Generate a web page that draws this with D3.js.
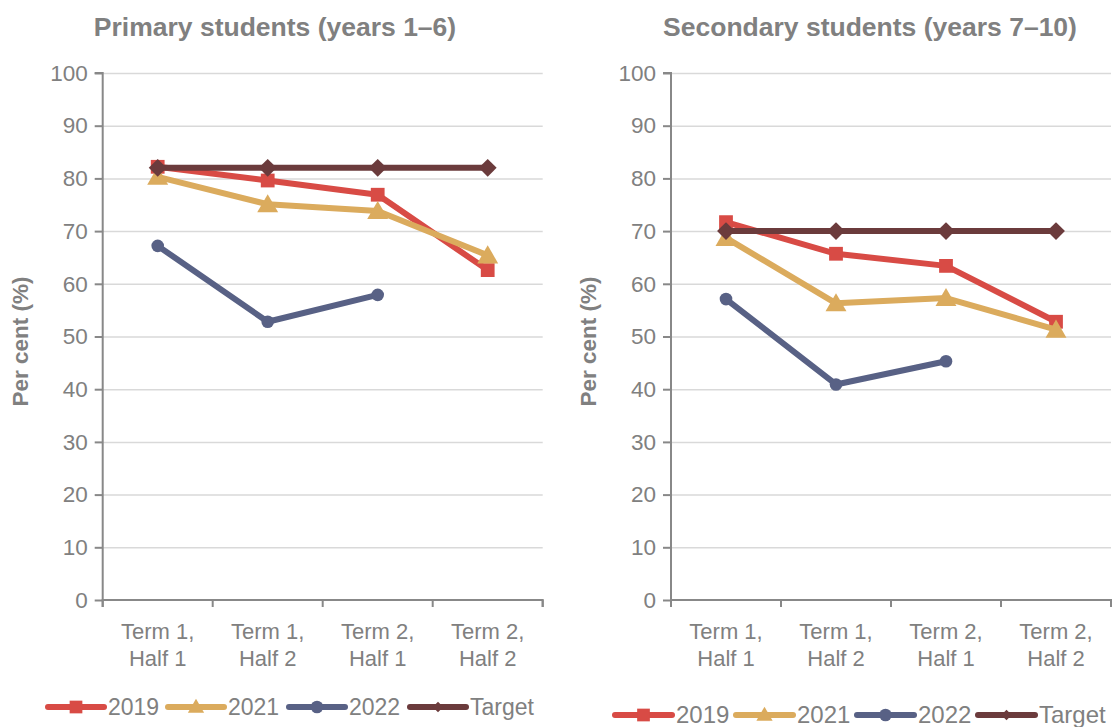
<!DOCTYPE html>
<html>
<head>
<meta charset="utf-8">
<script src="https://cdn.jsdelivr.net/npm/d3@7"></script>
<style>
  html, body { margin: 0; padding: 0; background: #ffffff; }
  svg { display: block; font-family: Arial, "Liberation Sans", sans-serif; }
</style>
</head>
<body>
<svg id="chart" width="1113" height="727"></svg>
<script>
// ---- data ----
const categories = [["Term 1,", "Half 1"], ["Term 1,", "Half 2"], ["Term 2,", "Half 1"], ["Term 2,", "Half 2"]];
const yTicks = [0, 10, 20, 30, 40, 50, 60, 70, 80, 90, 100];
const seriesNames = ["2019", "2021", "2022", "Target"];

const primary2019 = [82.2, 79.6, 76.9, 62.6];
const primary2021 = [80.3, 75.1, 73.8, 65.4];
const primary2022 = [67.2, 52.8, 57.9, null];
const primaryTarget = [82, 82, 82, 82];

const secondary2019 = [71.7, 65.7, 63.4, 52.8];
const secondary2021 = [68.7, 56.3, 57.3, 51.3];
const secondary2022 = [57.1, 40.9, 45.3, null];
const secondaryTarget = [70, 70, 70, 70];

const panelTitles = ["Primary students (years 1\u20136)", "Secondary students (years 7\u201310)"];
const yLabel = "Per cent (%)";

// ---- styling ----
const colors = { "2019": "#D84B45", "2021": "#DBAB5D", "2022": "#586185", "Target": "#6B3B3C" };
const markers = { "2019": "square", "2021": "triangle", "2022": "circle", "Target": "diamond" };
const textColor = "#808080";

const svg = d3.select("#chart");

// diamond is a square turned 45 degrees
function markerPath(kind, size) {
  const sym = { square: d3.symbolSquare, triangle: d3.symbolTriangle, circle: d3.symbolCircle, diamond: d3.symbolSquare }[kind];
  return d3.symbol(sym, size)();
}
const markerRotate = k => (k === "diamond" ? " rotate(45)" : "");
const markerSizes = { square: 190, triangle: 190, circle: 125, diamond: 160 };
const legendScale = { square: 0.85, triangle: 0.6, circle: 1, diamond: 0.35 };

function drawPanel(cfg) {
  const { left, right, top, bottom, title, titleX, labelX, data, legend } = cfg;
  const g = svg.append("g");

  const x = d3.scaleBand().domain(categories.map((d, i) => i)).range([left, right]).padding(0);
  const y = d3.scaleLinear().domain([0, 100]).range([bottom, top]);

  // horizontal gridlines
  g.append("g")
    .attr("transform", `translate(${left},0)`)
    .call(d3.axisLeft(y).tickValues(yTicks.slice(1)).tickSize(-(right - left)).tickFormat(""))
    .call(s => s.select(".domain").remove())
    .call(s => s.selectAll("line").attr("stroke", "#d9d9d9").attr("stroke-width", 1.5));

  // y axis
  g.append("g")
    .attr("transform", `translate(${left},0)`)
    .call(d3.axisLeft(y).tickValues(yTicks).tickSize(8).tickPadding(7))
    .call(s => s.select(".domain").attr("stroke", "#888").attr("stroke-width", 2).attr("d", `M-8,${top}H0V${bottom}`))
    .call(s => s.selectAll("line").attr("stroke", "#888").attr("stroke-width", 2))
    .call(s => s.selectAll("text").attr("fill", textColor).attr("font-size", 22.5).attr("font-family", "Arial, 'Liberation Sans', sans-serif"));

  // x axis: labels centred on each band, tick marks on band boundaries
  const xAxis = g.append("g")
    .attr("transform", `translate(0,${bottom})`)
    .call(d3.axisBottom(x).tickSize(0).tickFormat(""))
    .call(s => s.select(".domain").attr("stroke", "#888").attr("stroke-width", 2).attr("d", `M${left},7V0H${right}V7`));
  xAxis.selectAll(".tick").each(function (d) {
    const t = d3.select(this);
    const txt = t.append("text").attr("fill", textColor).attr("font-size", 22).attr("text-anchor", "middle");
    txt.append("tspan").attr("x", 0).attr("y", 39).text(categories[d][0]);
    txt.append("tspan").attr("x", 0).attr("y", 66).text(categories[d][1]);
  });
  const bounds = d3.range(categories.length + 1).map(i => i < categories.length ? x(i) : x(i - 1) + x.bandwidth());
  xAxis.selectAll("line.bound").data(bounds).join("line").attr("class", "bound")
    .attr("x1", d => d).attr("x2", d => d).attr("y1", 0).attr("y2", 7)
    .attr("stroke", "#888").attr("stroke-width", 2);

  // title
  g.append("text").attr("x", titleX).attr("y", 36).attr("text-anchor", "middle")
    .attr("font-size", 26.5).attr("font-weight", "bold").attr("fill", textColor).text(title);

  // y-axis label
  g.append("text").attr("transform", `translate(${labelX},${(top + bottom) / 2 + 5}) rotate(-90)`)
    .attr("text-anchor", "middle").attr("font-size", 22.5).attr("font-weight", "bold").attr("fill", textColor).text(yLabel);

  // series
  const line = d3.line().defined(d => d.v != null).x(d => x(d.i) + x.bandwidth() / 2).y(d => y(d.v));
  seriesNames.forEach(name => {
    const pts = data[name].map((v, i) => ({ i, v }));
    const sg = g.append("g");
    sg.append("path").attr("d", line(pts)).attr("fill", "none").attr("stroke", colors[name])
      .attr("stroke-width", 6).attr("stroke-linejoin", "round").attr("stroke-linecap", "round");
    const kind = markers[name];
    sg.selectAll("path.m").data(pts.filter(d => d.v != null)).join("path").attr("class", "m")
      .attr("d", markerPath(kind, markerSizes[kind]))
      .attr("transform", d => `translate(${x(d.i) + x.bandwidth() / 2},${y(d.v) + (kind === "triangle" ? 2 : 0)})${markerRotate(kind)}`)
      .attr("fill", colors[name]);
  });

  // legend
  const lg = g.append("g");
  seriesNames.forEach((name, k) => {
    const lx = legend.xs[k], ly = legend.y;
    lg.append("line").attr("x1", lx).attr("x2", lx + legend.len).attr("y1", ly).attr("y2", ly)
      .attr("stroke", colors[name]).attr("stroke-width", 6).attr("stroke-linecap", "round");
    const kind = markers[name];
    lg.append("path").attr("d", markerPath(kind, markerSizes[kind] * legendScale[kind]))
      .attr("transform", `translate(${lx + legend.len / 2},${ly + (kind === "triangle" ? 1 : 0)})${markerRotate(kind)}`)
      .attr("fill", colors[name]);
    lg.append("text").attr("x", lx + legend.len + 4).attr("y", ly).attr("dy", "0.35em")
      .attr("font-size", legend.fontSize).attr("fill", textColor).text(name);
  });
}

drawPanel({
  left: 102.7, right: 542.7, top: 73, bottom: 600,
  title: panelTitles[0], titleX: 275, labelX: 28,
  data: { "2019": primary2019, "2021": primary2021, "2022": primary2022, "Target": primaryTarget },
  legend: { xs: [48, 168, 289, 410], y: 707, len: 56, fontSize: 23 }
});

drawPanel({
  left: 671, right: 1111, top: 73, bottom: 600,
  title: panelTitles[1], titleX: 870, labelX: 596,
  data: { "2019": secondary2019, "2021": secondary2021, "2022": secondary2022, "Target": secondaryTarget },
  legend: { xs: [615, 736, 857, 978], y: 715, len: 57, fontSize: 24 }
});
</script>
</body>
</html>
